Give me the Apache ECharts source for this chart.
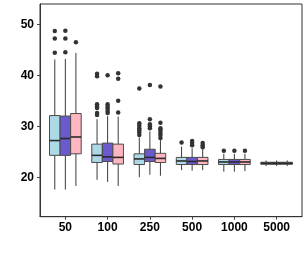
<!DOCTYPE html>
<html><head><meta charset="utf-8">
<script src="https://cdn.jsdelivr.net/npm/echarts@6/dist/echarts.min.js"></script>
<style>html,body{margin:0;padding:0;background:#fff}#c{width:307px;height:256px}</style>
</head><body><div id="c"></div>
<script>
const categories = ['50','100','250','500','1000','5000'];
const yTicks = [20, 30, 40, 50];
// stats per category: [low whisker, Q1, median, Q3, high whisker]
const statsBlue = [
  [17.6, 24.3, 27.2, 32.1, 43.1],
  [19.5, 22.9, 24.3, 26.5, 31.4],
  [20.0, 22.5, 23.6, 24.6, 27.8],
  [21.4, 22.5, 23.2, 23.9, 26.0],
  [21.1, 22.5, 23.0, 23.5, 24.6],
  [22.2, 22.55, 22.75, 22.95, 23.3]
];
const statsPurple = [
  [17.6, 24.3, 27.6, 32.0, 43.2],
  [19.1, 23.1, 24.0, 26.7, 32.0],
  [20.5, 23.1, 23.9, 25.5, 29.0],
  [21.3, 22.5, 23.1, 23.9, 25.7],
  [21.1, 22.5, 23.0, 23.5, 24.6],
  [22.2, 22.55, 22.75, 22.95, 23.3]
];
const statsPink = [
  [18.3, 24.6, 27.9, 32.5, 44.4],
  [18.3, 22.6, 23.9, 26.5, 31.9],
  [20.3, 22.9, 23.7, 24.7, 27.3],
  [21.4, 22.5, 23.2, 23.9, 25.5],
  [21.2, 22.5, 23.0, 23.5, 24.6],
  [22.2, 22.55, 22.75, 22.95, 23.3]
];
// outliers: [category index (0-based), value]
const outBlue = [
  [0,48.7],[0,47.2],[0,44.4],
  [1,40.3],[1,39.8],[1,34.3],[1,33.9],[1,33.6],[1,32.6],[1,32.2],
  [2,37.4],[2,30.6],[2,30.1],[2,29.6],[2,29.2],[2,28.8],[2,28.3],
  [3,26.8],
  [4,25.2]
];
const outPurple = [
  [0,48.75],[0,47.2],[0,44.5],
  [1,40.0],[1,34.3],[1,33.9],[1,33.5],[1,33.0],[1,32.6],
  [2,38.1],[2,31.4],[2,30.4],[2,30.0],[2,29.6],
  [3,27.1],[3,26.7],[3,26.3],
  [4,25.2]
];
const outPink = [
  [0,46.5],
  [1,40.4],[1,39.3],[1,35.0],[1,32.7],
  [2,37.8],[2,30.7],[2,29.6],[2,29.2],[2,28.7],[2,28.3],[2,27.7],
  [3,26.7],[3,26.3],[3,25.9],
  [4,25.2]
];

const BOXW = 0.25;
const LINE = '#3a3a3a';
function boxSeries(stats, offset, color) {
  return {
    type: 'custom',
    data: stats.map((s, i) => [i + 1 + offset].concat(s)),
    encode: { x: 0, y: [1, 2, 3, 4, 5] },
    z: 3,
    renderItem: function (params, api) {
      const x = api.value(0);
      const pLo = api.coord([x, api.value(1)]);
      const pQ1 = api.coord([x, api.value(2)]);
      const pMd = api.coord([x, api.value(3)]);
      const pQ3 = api.coord([x, api.value(4)]);
      const pHi = api.coord([x, api.value(5)]);
      const w = api.size([BOXW, 0])[0];
      const h = w / 2;
      const ls = { stroke: LINE, lineWidth: 1 };
      return {
        type: 'group',
        children: [
          { type: 'line', shape: { x1: pLo[0], y1: pLo[1], x2: pQ1[0], y2: pQ1[1] }, style: ls },
          { type: 'line', shape: { x1: pQ3[0], y1: pQ3[1], x2: pHi[0], y2: pHi[1] }, style: ls },
          { type: 'rect', shape: { x: pQ3[0] - h, y: pQ3[1], width: w, height: pQ1[1] - pQ3[1] },
            style: { fill: color, stroke: '#4a4a4a', lineWidth: 1 } },
          { type: 'line', shape: { x1: pMd[0] - h, y1: pMd[1], x2: pMd[0] + h, y2: pMd[1] },
            style: { stroke: '#2a2a2a', lineWidth: 1.6 } }
        ]
      };
    }
  };
}
function outSeries(outs, offset) {
  return {
    type: 'scatter',
    data: outs.map(o => [o[0] + 1 + offset, o[1]]),
    symbolSize: 4.5,
    itemStyle: { color: '#333333', opacity: 1 },
    z: 4,
    silent: true
  };
}

const chart = echarts.init(document.getElementById('c'), null, { renderer: 'canvas' });
const font = { fontFamily: 'Liberation Sans', fontWeight: 'bold', fontSize: 12, color: '#000' };
chart.setOption({
  animation: false,
  backgroundColor: '#fff',
  grid: { left: 40, top: 4, right: 5, bottom: 39.3, show: true, borderColor: '#333', borderWidth: 1, backgroundColor: 'transparent' },
  xAxis: {
    type: 'value', min: 0.4, max: 6.6,
    axisLine: { show: true, onZero: false, lineStyle: { color: '#333', width: 1 } },
    axisTick: { show: true, length: 3, customValues: [1,2,3,4,5,6], lineStyle: { color: '#444' } },
    axisLabel: Object.assign({ margin: 5, customValues: [1,2,3,4,5,6], formatter: v => categories[Math.round(v) - 1] }, font),
    splitLine: { show: false }
  },
  yAxis: {
    type: 'value', min: 12.27, max: 53.98,
    axisLine: { show: true, onZero: false, lineStyle: { color: '#333', width: 1 } },
    axisTick: { show: true, length: 3, customValues: yTicks, lineStyle: { color: '#444' } },
    axisLabel: Object.assign({ margin: 6, customValues: yTicks }, font),
    splitLine: { show: false }
  },
  series: [
    outSeries(outBlue, -0.25), outSeries(outPurple, 0), outSeries(outPink, 0.25),
    boxSeries(statsBlue, -0.25, '#ADD8E6'),
    boxSeries(statsPurple, 0, '#6A5ACD'),
    boxSeries(statsPink, 0.25, '#FFB6C1')
  ]
});
</script></body></html>
